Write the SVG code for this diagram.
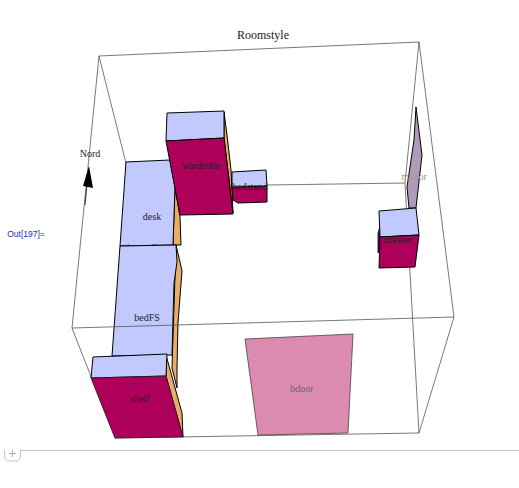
<svg xmlns="http://www.w3.org/2000/svg" width="519" height="488" viewBox="0 0 519 488">
<style>
.e{fill:none;stroke:#555;stroke-width:.8}
.f{stroke:#000;stroke-width:1;stroke-linejoin:round}
.blue{fill:#c2c9ff}
.mag{fill:#ae005a}
.or{fill:#e9ad68}
text{font-family:"Liberation Serif",serif;font-size:10px;text-anchor:middle;fill:#222}
</style>
<rect width="519" height="488" fill="#fff"/>
<g id="connectors">
<path class="e" d="M99 56L419 42L454 317L419 433L115 438L72 328M99 56L72 328M99 56L132 187L405 183L419 42M405 183L419 433M132 187L115 438"/>
</g>
<g id="bdoor"><path d="M245 339L353 334L348 433L258 435Z" fill="#dc8bb0" stroke="#444" stroke-width=".8"/><text x="302" y="392" style="fill:#666">bdoor</text></g>
<g id="mirror"><path class="f" d="M416 107L422 155L416 208L409 208L407 187L414 140Z" fill="#b09ab8" stroke-width=".8"/><text x="414" y="180" style="fill:#999">mirror</text></g>
<g id="desk">
<path class="or f" d="M175 187L180 217L181 245L173 245Z"/>
<path class="blue f" d="M126 162L170 160L175 187L173 245L120 246Z"/>
<path d="M124 246L129 245M152 245L157 245" stroke="#ae005a" stroke-width="1.2"/>
<text x="152" y="220">desk</text></g>
<g id="bedFS">
<path class="or f" d="M176 245L180 262L182 271L180 297L178 323L177 367L177 388L172 368Z"/>
<path class="blue f" d="M120 246L176 245L177 262L174 283L172 355L112 356Z"/>
<text x="147" y="321">bedFS</text></g>
<g id="wardrobe">
<path class="or f" d="M224 112L227 135L231 170L233 213L224 138Z"/>
<path class="blue f" d="M167 113L224 111L224 138L166 141Z"/>
<path class="mag f" d="M166 141L224 138L233 214L180 215Z"/>
<text x="201" y="169">wardrobe</text></g>
<g id="bedstand">
<path class="mag f" d="M232 187L267 186L267 202L238 203L233 200Z"/>
<path class="blue f" d="M232 172L266 170L267 186L232 187Z"/>
<text x="250" y="190">bedstand</text></g>
<g id="dresser">
<path d="M378 233L381 223L381 247L378 253Z" fill="#4a1a7a" stroke="#000" stroke-width=".8"/>
<path class="blue f" d="M379 211L416 208L419 235L380 237Z"/>
<path class="mag f" d="M380 237L419 235L415 267L379 268Z"/>
<text x="398" y="243">dresser</text></g>
<g id="shelf">
<path class="or f" d="M166 355L182 413L183 437L166 376Z"/>
<path class="blue f" d="M93 357L167 354L166 376L91 378Z"/>
<path d="M91 378L166 376L183 437L115 438Z" fill="#ae005a" stroke="#222" stroke-width=".8"/>
<text x="140" y="402">shelf</text></g>
<g id="edges-front"><path class="e" d="M72 328L454 317"/></g>
<g id="nord">
<path d="M85 205L87 185" stroke="#000" stroke-width=".8"/>
<path d="M89 166L83 186L88 187L93 188Z" fill="#000"/>
<text x="90" y="157">Nord</text></g>
<text x="263" y="39" style="font-size:12px">Roomstyle</text>
<text x="26" y="237" style="font-family:'Liberation Sans',sans-serif;font-size:8.5px;fill:#2030b0">Out[197]=</text>
<g id="cell" fill="none" stroke="#c4c4c4">
<path d="M21 450.500H519"/>
<path d="M4.500 450V456Q4.500 461 10 461H15Q20.500 461 20.500 456V450"/>
<path d="M12.500 450V457M9 453.500H16" stroke="#aaa"/>
</g>
</svg>
